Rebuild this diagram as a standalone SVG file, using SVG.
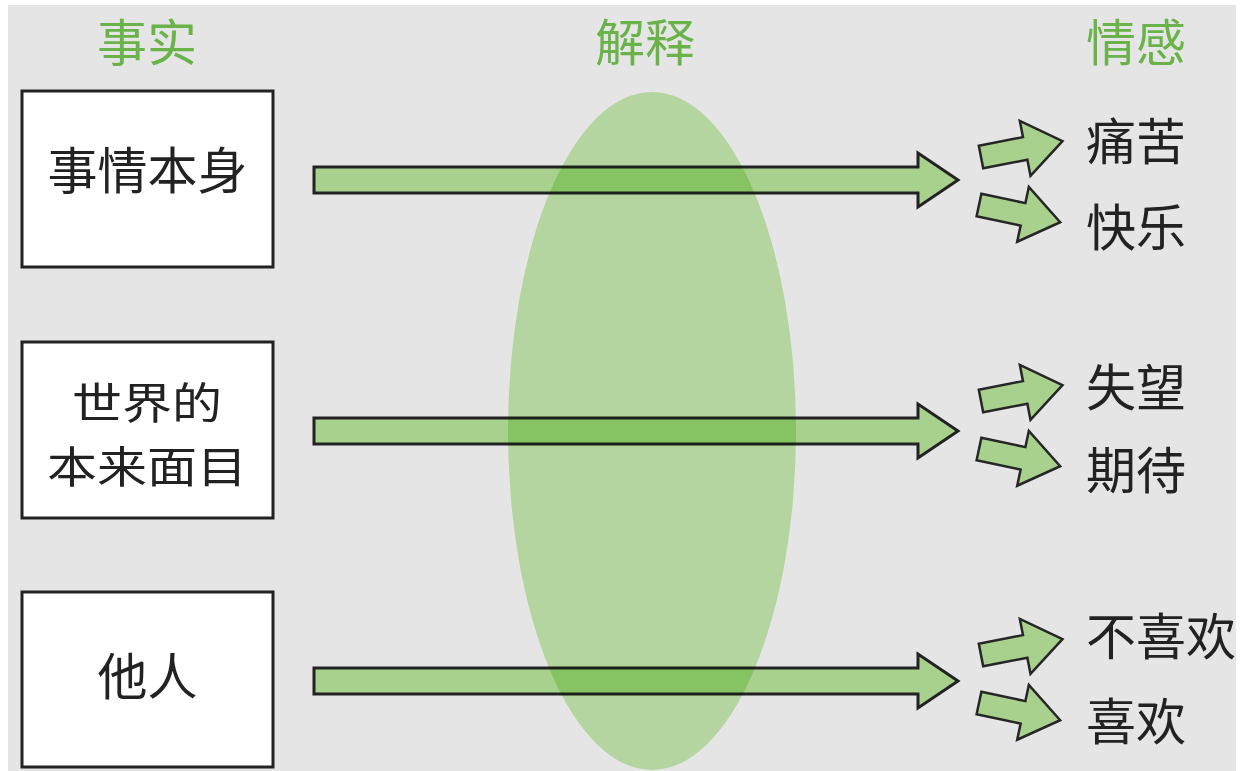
<svg xmlns="http://www.w3.org/2000/svg" width="1246" height="771" viewBox="0 0 1246 771">
<style>
.box{fill:#ffffff;stroke:#222222;stroke-width:3}
.t{font-family:"Noto Sans CJK SC","Noto Sans",sans-serif;font-size:50px;fill:#222222;dominant-baseline:central}
.t2{font-family:"Noto Sans CJK SC","Noto Sans",sans-serif;font-size:43px;fill:#222222;dominant-baseline:central}
.h{font-family:"Noto Sans CJK SC","Noto Sans",sans-serif;font-size:50px;fill:#6ab34b;dominant-baseline:central;text-anchor:middle}
.c{text-anchor:middle}
.big{fill:#a9d18e;stroke:#222222;stroke-width:3;stroke-linejoin:miter}
.small{fill:#a9d18e;stroke:#262626;stroke-width:2.5;stroke-linejoin:miter}
.lens{fill:#c9eeb1;mix-blend-mode:multiply}
</style>
<defs>
<path id="bigArrow" d="M314,-13 L918,-13 L918,-27 L958,0 L918,27 L918,13 L314,13 Z"/>
<path id="smallArrow" d="M0,-11.5 L45,-11.5 L45,-28 L83,0 L45,28 L45,11.5 L0,11.5 Z"/>
</defs>
<rect x="0" y="0" width="1246" height="771" fill="#ffffff"/>
<rect x="8" y="5" width="1228" height="766" fill="#e5e5e5"/>

<g id="headers">
<text class="h" x="147" y="39">事实</text>
<text class="h" x="645" y="39">解释</text>
<text class="h" x="1136" y="39">情感</text>
</g>

<g id="node-fact1">
<rect class="box" x="22" y="91" width="251" height="176"/>
<text class="t c" x="147.5" y="167">事情本身</text>
</g>
<g id="node-fact2">
<rect class="box" x="22" y="342" width="251" height="176"/>
<text class="t2" x="72" y="400" textLength="150" lengthAdjust="spacingAndGlyphs">世界的</text>
<text class="t2" x="47" y="464" textLength="200" lengthAdjust="spacingAndGlyphs">本来面目</text>
</g>
<g id="node-fact3">
<rect class="box" x="22" y="592" width="251" height="175"/>
<text class="t c" x="147.5" y="673">他人</text>
</g>

<g id="connectors">
<use href="#bigArrow" class="big" transform="translate(0,180)"/>
<use href="#bigArrow" class="big" transform="translate(0,431)"/>
<use href="#bigArrow" class="big" transform="translate(0,681)"/>
<use href="#smallArrow" class="small" transform="translate(981,157) rotate(-11)"/>
<use href="#smallArrow" class="small" transform="translate(979,205) rotate(12)"/>
<use href="#smallArrow" class="small" transform="translate(981,401) rotate(-11)"/>
<use href="#smallArrow" class="small" transform="translate(979,449) rotate(12)"/>
<use href="#smallArrow" class="small" transform="translate(981,655) rotate(-11)"/>
<use href="#smallArrow" class="small" transform="translate(979,703) rotate(12)"/>
</g>

<g id="node-interpretation">
<ellipse class="lens" cx="652" cy="431" rx="144" ry="339"/>
</g>

<g id="node-emotions">
<text class="t" x="1086" y="138">痛苦</text>
<text class="t" x="1086" y="224">快乐</text>
<text class="t" x="1086" y="384">失望</text>
<text class="t" x="1086" y="467">期待</text>
<text class="t" x="1086" y="633">不喜欢</text>
<text class="t" x="1086" y="718">喜欢</text>
</g>
</svg>
